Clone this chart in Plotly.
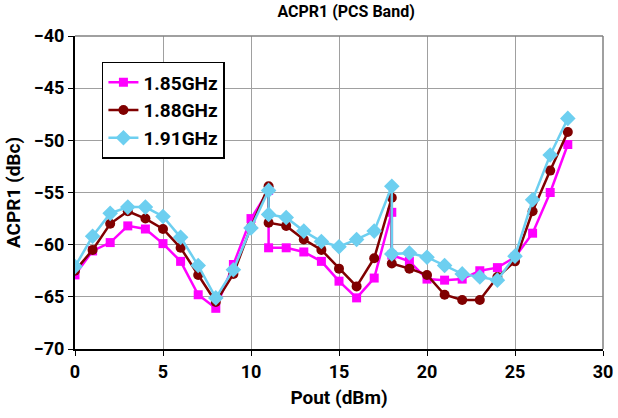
import plotly.graph_objects as go

pout = [0, 1, 2, 3, 4, 5, 6, 7, 8, 9, 10, 11, 11, 12, 13, 14, 15, 16, 17, 18, 18,
        19, 20, 21, 22, 23, 24, 25, 26, 27, 28]

acpr_185 = [-62.9, -60.6, -59.8, -58.2, -58.5, -59.9, -61.6, -64.8, -66.1, -61.9, -57.5,
            -54.8, -60.3, -60.3, -60.7, -61.6, -63.5, -65.1, -63.2, -56.9, -61.0,
            -61.6, -63.3, -63.4, -63.3, -62.5, -62.2, -61.2, -58.9, -55.0, -50.4]
acpr_188 = [-62.5, -60.5, -58.0, -56.8, -57.5, -58.5, -60.3, -62.9, -65.5, -62.8, -58.3,
            -54.4, -57.9, -58.2, -59.5, -60.5, -62.3, -64.0, -61.3, -55.5, -61.8,
            -62.3, -62.9, -64.8, -65.3, -65.3, -63.1, -61.6, -56.8, -52.9, -49.2]
acpr_191 = [-62.1, -59.2, -57.0, -56.4, -56.4, -57.3, -59.3, -62.0, -65.1, -62.4, -58.4,
            -54.8, -57.1, -57.4, -58.7, -59.7, -60.2, -59.5, -58.7, -54.4, -60.9,
            -60.8, -61.2, -62.0, -62.8, -63.1, -63.4, -61.1, -55.7, -51.4, -47.9]

series = [
    ("1.85GHz", acpr_185, "#FF00FF", "square", 9),
    ("1.88GHz", acpr_188, "#800000", "circle", 10),
    ("1.91GHz", acpr_191, "#6DCFF0", "diamond", 12),
]

FONT = "Roboto, Lato, sans-serif"

fig = go.Figure()
for name, vals, color, sym, size in series:
    fig.add_trace(go.Scatter(
        x=pout, y=vals, name=name, mode="lines+markers",
        line=dict(color=color, width=2.5),
        marker=dict(color=color, symbol=sym, size=size),
    ))

fig.update_layout(
    width=618, height=418,
    margin=dict(l=75, r=15, t=36, b=69, autoexpand=False),
    paper_bgcolor="white", plot_bgcolor="white",
    font=dict(family=FONT, size=17, color="black", weight="bold"),
    title=dict(text="ACPR1 (PCS Band)", x=0.56, xanchor="center", y=0.972, yanchor="middle",
               font=dict(family=FONT, size=16, color="black", weight="bold")),
    showlegend=True,
    legend=dict(x=0.051, y=0.917, xanchor="left", yanchor="top",
                bgcolor="white", bordercolor="black", borderwidth=1.5,
                font=dict(family=FONT, size=19, color="black", weight="bold"),
                itemwidth=30, tracegroupgap=0),
    xaxis=dict(range=[0, 30], dtick=5, tick0=0, showgrid=True, gridcolor="#A0A0A0", gridwidth=1,
               showline=True, linecolor="black", linewidth=2, ticks="outside", ticklen=5,
               tickcolor="black", zeroline=False, automargin=False,
               title=dict(text="Pout (dBm)", standoff=10, font=dict(family=FONT, size=19, weight="bold")),
               tickfont=dict(family=FONT, size=18, weight="bold")),
    yaxis=dict(range=[-70, -40], dtick=5, tick0=-70, showgrid=True, gridcolor="#A0A0A0", gridwidth=1,
               showline=True, linecolor="black", linewidth=2, ticks="outside", ticklen=5,
               tickcolor="black", zeroline=False, automargin=False,
               title=dict(text="ACPR1 (dBc)", standoff=8, font=dict(family=FONT, size=19, weight="bold")),
               tickfont=dict(family=FONT, size=18, weight="bold")),
)

fig.add_shape(type="line", xref="paper", yref="paper", x0=0, x1=1, y0=1, y1=1,
              line=dict(color="#808080", width=1.5))
fig.add_shape(type="line", xref="paper", yref="paper", x0=1, x1=1, y0=0, y1=1,
              line=dict(color="#808080", width=1.5))

fig.write_html("out.html", config={"displayModeBar": False},
               post_script="document.body.style.margin='0';document.body.style.padding='0';")
